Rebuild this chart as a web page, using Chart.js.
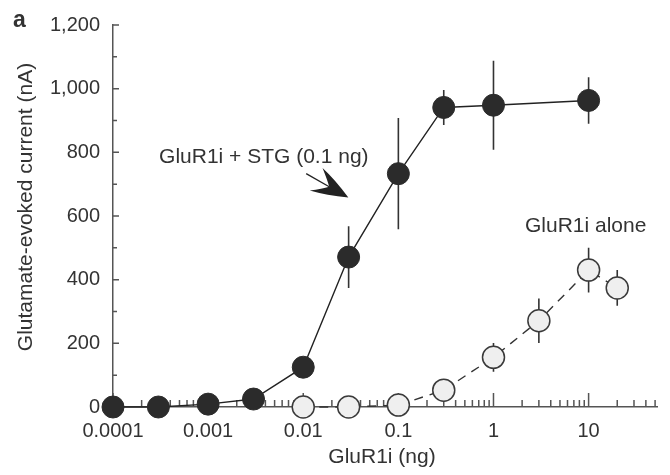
<!DOCTYPE html>
<html>
<head>
<meta charset="utf-8">
<script src="https://cdn.jsdelivr.net/npm/chart.js@4.4.1/dist/chart.umd.min.js"></script>
<style>
  html, body { margin: 0; padding: 0; background: #fff; }
  canvas { display: block; }
</style>
</head>
<body>
<canvas id="canvas" width="670" height="475"></canvas>
<script>
// GluR1i + STG (0.1 ng) - dose (ng), current (nA), error (nA)
var stgDoses = [0.0001, 0.0003, 0.001, 0.003, 0.01, 0.03, 0.1, 0.3, 1, 10];
var stgCurrent = [0, 0, 9, 25, 125, 471, 733, 941, 948, 963];
var stgError = [0, 0, 0, 0, 0, 97, 175, 55, 140, 73];

// GluR1i alone
var aloneDoses = [0.01, 0.03, 0.1, 0.3, 1, 3, 10, 20];
var aloneCurrent = [0, 0, 6, 53, 156, 271, 430, 374];
var aloneError = [0, 0, 0, 20, 45, 70, 70, 56];

var xTicks = [0.0001, 0.001, 0.01, 0.1, 1, 10];
var xTickLabels = ['0.0001', '0.001', '0.01', '0.1', '1', '10'];
var yTicks = [0, 200, 400, 600, 800, 1000, 1200];
var yTickLabels = ['0', '200', '400', '600', '800', '1,000', '1,200'];

// annotations, anchored in data units
var stgLabel = { text: 'GluR1i + STG (0.1 ng)', x: 0.000305, y: 767 };
var aloneLabel = { text: 'GluR1i alone', x: 40.5, y: 549 };
var arrowTail = { x: 0.01074, y: 733 };
var arrowTip = { x: 0.0298, y: 658 };

var FONT = '"Liberation Sans", Arial, Helvetica, sans-serif';
var INK = '#333';

var toPoints = function (xs, ys) {
  return xs.map(function (x, i) { return { x: x, y: ys[i] }; });
};

// error bars and inward tick marks go under the points
var extras = {
  id: 'extras',
  beforeDatasetsDraw: function (chart) {
    var ctx = chart.ctx;
    var xs = chart.scales.x, ys = chart.scales.y;
    var area = chart.chartArea;
    ctx.save();
    ctx.strokeStyle = '#555';
    ctx.lineWidth = 1.5;
    ctx.beginPath();
    // x ticks: decades long, the rest short
    for (var d = xs.min; d <= xs.max * 1.0001; d *= 10) {
      for (var k = 1; k <= 9; k++) {
        var v = k * d;
        if (v > xs.max) break;
        var px = xs.getPixelForValue(v);
        var len = k === 1 ? 14 : 7;
        ctx.moveTo(px, area.bottom);
        ctx.lineTo(px, area.bottom - len);
      }
    }
    // y ticks every 100
    for (var y = 100; y <= ys.max; y += 100) {
      var py = ys.getPixelForValue(y);
      ctx.moveTo(area.left, py);
      ctx.lineTo(area.left + (y % 200 === 0 ? 6 : 4), py);
    }
    ctx.stroke();

    // error bars
    ctx.strokeStyle = '#333';
    ctx.lineWidth = 1.6;
    var errs = [stgError, aloneError];
    var vals = [stgCurrent, aloneCurrent];
    ctx.beginPath();
    for (var s = 0; s < 2; s++) {
      var meta = chart.getDatasetMeta(s);
      meta.data.forEach(function (pt, i) {
        var e = errs[s][i];
        if (!e) return;
        ctx.moveTo(pt.x, ys.getPixelForValue(vals[s][i] + e));
        ctx.lineTo(pt.x, ys.getPixelForValue(vals[s][i] - e));
      });
    }
    ctx.stroke();
    ctx.restore();
  },
  afterDraw: function (chart) {
    var ctx = chart.ctx;
    var xs = chart.scales.x, ys = chart.scales.y;
    ctx.save();
    ctx.fillStyle = INK;

    // panel letter
    ctx.font = 'bold 23px ' + FONT;
    ctx.textAlign = 'left';
    ctx.textBaseline = 'alphabetic';
    ctx.fillText('a', 13, 27);

    // axis titles
    ctx.font = '21px ' + FONT;
    ctx.textAlign = 'center';
    ctx.fillText('GluR1i (ng)', 382, 463);
    ctx.save();
    ctx.translate(32, 207);
    ctx.rotate(-Math.PI / 2);
    ctx.fillText('Glutamate-evoked current (nA)', 0, 0);
    ctx.restore();

    // series labels
    ctx.textAlign = 'left';
    ctx.fillText(stgLabel.text, xs.getPixelForValue(stgLabel.x), ys.getPixelForValue(stgLabel.y));
    ctx.textAlign = 'right';
    ctx.fillText(aloneLabel.text, xs.getPixelForValue(aloneLabel.x), ys.getPixelForValue(aloneLabel.y));

    // arrow
    var tx = xs.getPixelForValue(arrowTail.x), ty = ys.getPixelForValue(arrowTail.y);
    var hx = xs.getPixelForValue(arrowTip.x), hy = ys.getPixelForValue(arrowTip.y);
    var dx = hx - tx, dy = hy - ty, L = Math.sqrt(dx * dx + dy * dy);
    var ux = dx / L, uy = dy / L, nx = -uy, ny = ux;
    var P = function (a, b) { return [hx + ux * a + nx * b, hy + uy * a + ny * b]; };
    var notch = P(-22, 0), c1 = P(-37, -13), c2 = P(-37, 13);
    ctx.strokeStyle = '#222';
    ctx.lineWidth = 1.3;
    ctx.beginPath();
    ctx.moveTo(tx, ty);
    ctx.lineTo(notch[0], notch[1]);
    ctx.stroke();
    ctx.fillStyle = '#222';
    ctx.beginPath();
    ctx.moveTo(hx, hy);
    var q1 = P(-20, -9), q2 = P(-20, 9), r1 = P(-27, -5), r2 = P(-27, 5);
    ctx.quadraticCurveTo(q1[0], q1[1], c1[0], c1[1]);
    ctx.quadraticCurveTo(r1[0], r1[1], notch[0], notch[1]);
    ctx.quadraticCurveTo(r2[0], r2[1], c2[0], c2[1]);
    ctx.quadraticCurveTo(q2[0], q2[1], hx, hy);
    ctx.fill();
    ctx.restore();
  }
};

var ctx = document.getElementById('canvas').getContext('2d');
var chart = new Chart(ctx, {
  type: 'line',
  data: {
    datasets: [{
      label: 'GluR1i + STG (0.1 ng)',
      data: toPoints(stgDoses, stgCurrent),
      borderColor: '#222',
      borderWidth: 1.4,
      pointRadius: 11,
      pointBackgroundColor: '#2b2b2b',
      pointBorderColor: '#2b2b2b',
      pointBorderWidth: 1,
      clip: false
    }, {
      label: 'GluR1i alone',
      data: toPoints(aloneDoses, aloneCurrent),
      borderColor: '#333',
      borderWidth: 1.4,
      borderDash: [9, 7],
      pointRadius: 11,
      pointBackgroundColor: '#efefef',
      pointBorderColor: '#3a3a3a',
      pointBorderWidth: 1.5,
      clip: false
    }]
  },
  options: {
    responsive: false,
    animation: false,
    layout: { padding: { top: 22, right: 2, left: 0, bottom: 0 } },
    plugins: { legend: { display: false }, tooltip: { enabled: false } },
    scales: {
      x: {
        type: 'logarithmic',
        min: 0.0001,
        max: 53,
        grid: { display: false, drawTicks: false },
        border: { display: true, color: '#555', width: 1.5 },
        afterBuildTicks: function (scale) {
          scale.ticks = xTicks.map(function (v) { return { value: v }; });
        },
        afterFit: function (scale) { scale.height = 68; },
        ticks: {
          autoSkip: false,
          maxRotation: 0,
          padding: 12,
          color: INK,
          font: { family: FONT, size: 20 },
          callback: function (v, i) { return xTickLabels[i]; }
        }
      },
      y: {
        min: 0,
        max: 1200,
        grid: { display: false, drawTicks: false },
        border: { display: true, color: '#555', width: 1.5 },
        afterBuildTicks: function (scale) {
          scale.ticks = yTicks.map(function (v) { return { value: v }; });
        },
        afterFit: function (scale) { scale.width = 113; },
        ticks: {
          padding: 13,
          color: INK,
          font: { family: FONT, size: 20 },
          callback: function (v, i) { return yTickLabels[i]; }
        }
      }
    }
  },
  plugins: [extras]
});
</script>
</body>
</html>
